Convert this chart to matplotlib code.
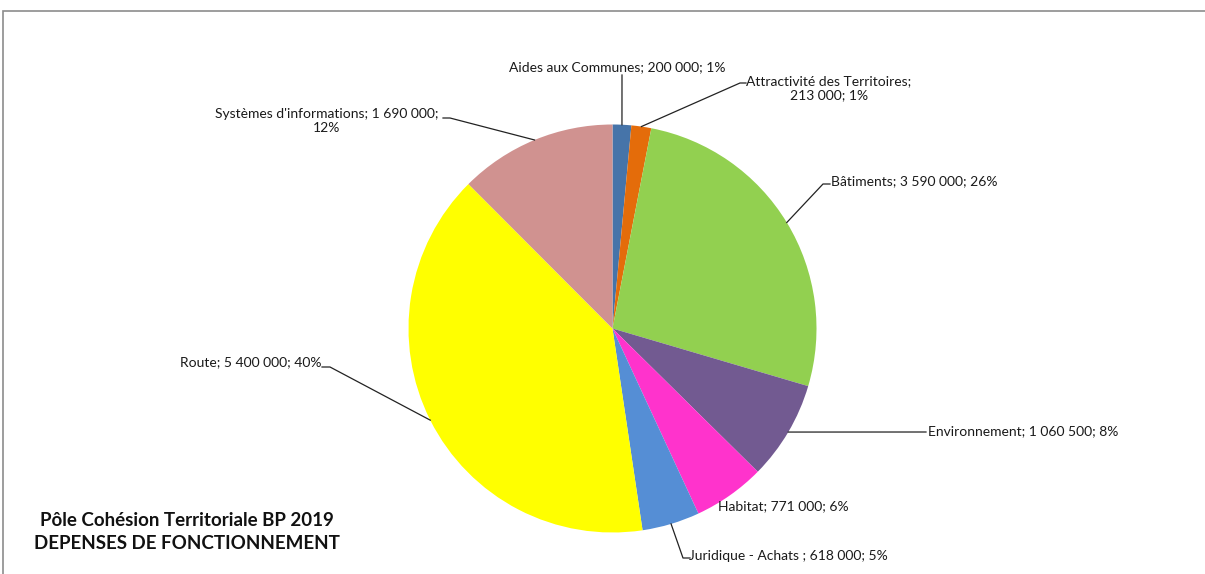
import numpy as np
import matplotlib.pyplot as plt
from matplotlib.patches import Rectangle

# Data
categories = ['Aides aux Communes', 'Attractivité des Territoires', 'Bâtiments',
              'Environnement', 'Habitat', 'Juridique - Achats ', 'Route',
              "Systèmes d'informations"]
values = [200000, 213000, 3590000, 1060500, 771000, 618000, 5400000, 1690000]
percents = [1, 1, 26, 8, 6, 5, 40, 12]
colors = ['#4674A9', '#E46C0A', '#92D050', '#725A91', '#FF33CC', '#558ED5',
          '#FFFF00', '#D09290']

W, H = 1205, 574
plt.rcParams['font.family'] = ['Lato', 'DejaVu Sans']

fig = plt.figure(figsize=(W / 100, H / 100), dpi=100)
ax = fig.add_axes([0, 0, 1, 1])

# chart frame
fig.patches.append(Rectangle((3 / W, -0.1), 1.2, (H - 11) / H + 0.1,
                             transform=fig.transFigure, fill=False,
                             edgecolor='#8c8c8c', lw=1.2))

cx, cy, r = 612.5, H - 328.5, 204
wedges, _ = ax.pie(values, colors=colors, startangle=90, counterclock=False,
                   center=(cx, cy), radius=r, frame=True)
ax.set_xlim(0, W)
ax.set_ylim(0, H)
ax.axis('off')

def fmt(v):
    return f'{v:,}'.replace(',', ' ')

def label(i):
    return f'{categories[i]}; {fmt(values[i])}; {percents[i]}%'

def anchor(i):
    w = wedges[i]
    a = np.deg2rad((w.theta1 + w.theta2) / 2)
    return cx + r * np.cos(a), cy + r * np.sin(a)

def px(x, y):
    return x, H - y

# label positions (pixel coordinates), alignment, leader path
labs = [
    dict(pos=(617, 67), ha='center', text=label(0), path=[(622, 75)]),
    dict(pos=(829, 88), ha='center',
         text=f'{categories[1]};\n{fmt(values[1])}; {percents[1]}%',
         path=[(740, 83), (746, 83)]),
    dict(pos=(831, 181), ha='left', text=label(2), path=[(823, 184), (830, 184)]),
    dict(pos=(928, 431), ha='left', text=label(3), path=[(926, 432)]),
    dict(pos=(718, 506), ha='left', text=label(4), path=None),
    dict(pos=(689, 556), ha='left', text=label(5), path=[(683, 558), (690, 558)]),
    dict(pos=(322, 362), ha='right', text=label(6), path=[(330, 367), (322, 367)]),
    dict(pos=(327, 121), ha='center',
         text=f"{categories[7]}; {fmt(values[7])};\n{percents[7]}%",
         path=[(450, 118), (443, 118)]),
]

for i, d in enumerate(labs):
    ax.text(*px(*d['pos']), d['text'], ha=d['ha'], va='center',
            multialignment='center', fontsize=10, color='#1a1a1a',
            linespacing=1.25)
    if d['path']:
        pts = [anchor(i)] + [px(x, y) for x, y in d['path']]
        xs, ys = zip(*pts)
        ax.plot(xs, ys, color='#222222', lw=0.9)

ax.text(*px(187, 532), 'Pôle Cohésion Territoriale BP 2019\nDEPENSES DE FONCTIONNEMENT',
        ha='center', va='center', fontsize=13.5, fontweight='bold',
        linespacing=1.4, color='#111111')

fig.savefig('out.png', dpi=100)
